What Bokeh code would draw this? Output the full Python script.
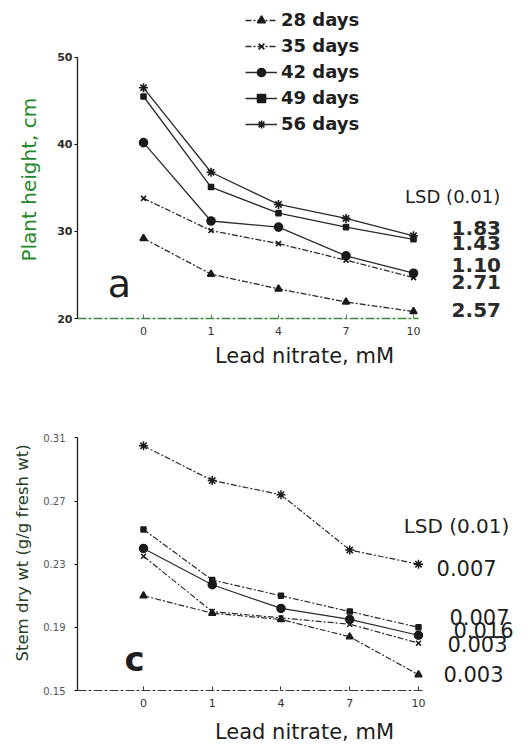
from bokeh.plotting import figure
from bokeh.models import Range1d, Label, Legend, LegendItem, FixedTicker, PrintfTickFormatter, Title
from bokeh.layouts import column
from bokeh.embed import file_html
from bokeh.resources import INLINE

# ---------------- data ----------------
conc_labels = ["0", "1", "4", "7", "10"]          # lead nitrate, mM
x_idx = [0, 1, 2, 3, 4]
series_names = ["28 days", "35 days", "42 days", "49 days", "56 days"]

# panel a: plant height, cm
height_28 = [29.2, 25.1, 23.4, 21.9, 20.8]
height_35 = [33.8, 30.1, 28.6, 26.7, 24.7]
height_42 = [40.2, 31.2, 30.5, 27.2, 25.2]
height_49 = [45.5, 35.1, 32.1, 30.5, 29.1]
height_56 = [46.5, 36.8, 33.1, 31.5, 29.5]
lsd_height = ["1.83", "1.43", "1.10", "2.71", "2.57"]

# panel c: stem dry wt (g/g fresh wt)
dry_28 = [0.210, 0.199, 0.195, 0.184, 0.160]
dry_35 = [0.235, 0.200, 0.196, 0.192, 0.180]
dry_42 = [0.240, 0.217, 0.202, 0.195, 0.185]
dry_49 = [0.252, 0.220, 0.210, 0.200, 0.190]
dry_56 = [0.305, 0.283, 0.274, 0.239, 0.230]
lsd_dry = ["0.007", "0.007", "0.016", "0.003", "0.003"]

# ---------------- styles ----------------
FONT = "DejaVu Sans"
markers = ["triangle", "x", "circle", "square", "asterisk"]
msizes = [7, 7, 8, 5, 9]
top_dash = ["6 2 2 2", "6 2 2 2", "solid", "solid", "solid"]
bot_dash = ["6 2 2 2", "6 2 2 2", "solid", "6 2 2 2", "6 2 2 2"]
LINE_COLOR = "#2b2b2b"


def base_fig(height, xr, yr, top_border, bottom_border):
    p = figure(width=531, height=height, x_range=xr, y_range=yr,
               output_backend="svg", toolbar_location=None,
               min_border_left=77, min_border_right=0, min_border_top=top_border,
               min_border_bottom=bottom_border)
    p.outline_line_color = None
    p.xgrid.visible = False
    p.ygrid.visible = False
    p.background_fill_color = "white"
    p.border_fill_color = "white"
    xa = p.xaxis[0]
    xa.ticker = FixedTicker(ticks=x_idx)
    xa.major_label_overrides = {i: s for i, s in zip(x_idx, conc_labels)}
    xa.major_tick_in = 4
    xa.major_tick_out = 0
    xa.minor_tick_line_color = None
    xa.major_label_text_font = FONT
    xa.major_label_text_font_size = "11px"
    xa.major_label_text_color = "#333333"
    xa.major_label_standoff = 8
    xa.axis_label = "Lead nitrate, mM"
    xa.axis_label_text_font = FONT
    xa.axis_label_text_font_size = "21px"
    xa.axis_label_text_font_style = "normal"
    xa.axis_label_text_color = "#1e1e1e"
    xa.axis_line_dash = "9 2 3 2"
    ya = p.yaxis[0]
    ya.minor_tick_line_color = None
    ya.major_tick_in = 0
    ya.major_tick_out = 3
    ya.axis_line_color = "#1e1e1e"
    ya.axis_line_width = 1.3
    return p


# ---------------- panel a ----------------
p1 = base_fig(370, Range1d(-0.978, 5.748), Range1d(20, 55.61), 8, 51)
p1.xaxis[0].bounds = (-0.978, 4.08)
p1.xaxis[0].axis_line_color = "#3d8b3d"
p1.xaxis[0].major_tick_line_color = "#3d8b3d"
p1.xaxis[0].axis_line_width = 1.3
p1.xaxis[0].axis_label_standoff = 6
ya = p1.yaxis[0]
ya.bounds = (20, 50)
ya.ticker = FixedTicker(ticks=[20, 30, 40, 50])
ya.major_label_text_font = FONT
ya.major_label_text_font_size = "11px"
ya.major_label_text_font_style = "bold"
ya.major_label_text_color = "#2a2a2a"
ya.major_label_standoff = 2

# y-axis title, placed along the 20-50 span of the axis
p1.add_layout(Title(text="Plant height, cm", align="left", offset=57,
                    standoff=28, text_font=FONT, text_font_size="20px",
                    text_font_style="normal", text_color="#23892a"), "left")

top_series = [height_28, height_35, height_42, height_49, height_56]
items = []
for name, vals, mk, ms, dash in zip(series_names, top_series, markers, msizes, top_dash):
    ln = p1.line(x_idx, vals, line_color=LINE_COLOR, line_width=1.3, line_dash=dash)
    sc = p1.scatter(x_idx, vals, marker=mk, size=ms, line_color="#1a1a1a",
                    fill_color="#1a1a1a", line_width=1.6)
    items.append(LegendItem(label=name, renderers=[ln, sc]))

legend = Legend(items=items, location=(168, 184), orientation="vertical",
                label_text_font=FONT, label_text_font_size="18px",
                label_text_font_style="bold", label_text_color="#1e1e1e",
                glyph_width=32, glyph_height=20, label_height=20,
                label_standoff=4, spacing=5, padding=0, margin=0,
                border_line_color=None, background_fill_alpha=0)
p1.add_layout(legend, "center")

p1.add_layout(Label(x=4.58, y=33.97, text="LSD (0.01)", text_font=FONT,
                    text_font_size="18px", text_color="#1e1e1e",
                    text_align="center", text_baseline="middle"))
for txt, yy in zip(lsd_height, [30.42, 28.70, 26.18, 24.24, 21.03]):
    p1.add_layout(Label(x=4.93, y=yy, text=txt, text_font=FONT,
                        text_font_size="20px", text_font_style="bold",
                        text_color="#2a2a2a", text_align="center",
                        text_baseline="middle"))
p1.add_layout(Label(x=-0.356, y=24.0, text="a", text_font=FONT,
                    text_font_size="38px", text_color="#1e1e1e",
                    text_align="center", text_baseline="middle"))

# ---------------- panel c ----------------
p2 = base_fig(376, Range1d(-0.96, 5.644), Range1d(0.15, 0.3527), 0, 52)
p2.xaxis[0].bounds = (-0.96, 4.07)
p2.xaxis[0].axis_line_color = "#2f3d2f"
p2.xaxis[0].major_tick_line_color = "#2f3d2f"
p2.xaxis[0].axis_line_width = 1.2
p2.xaxis[0].axis_label_standoff = 10
ya2 = p2.yaxis[0]
ya2.bounds = (0.15, 0.31)
ya2.ticker = FixedTicker(ticks=[0.15, 0.19, 0.23, 0.27, 0.31])
ya2.formatter = PrintfTickFormatter(format="%.2f")
ya2.major_label_text_font = FONT
ya2.major_label_text_font_size = "10px"
ya2.major_label_text_color = "#555555"
ya2.major_label_standoff = 9

p2.add_layout(Title(text="Stem dry wt (g/g fresh wt)", align="left", offset=29,
                    standoff=18, text_font=FONT, text_font_size="16.5px",
                    text_font_style="normal", text_color="#24401f"), "left")

bot_series = [dry_28, dry_35, dry_42, dry_49, dry_56]
for vals, mk, ms, dash in zip(bot_series, markers, msizes, bot_dash):
    p2.line(x_idx, vals, line_color=LINE_COLOR, line_width=1.2, line_dash=dash)
    p2.scatter(x_idx, vals, marker=mk, size=ms, line_color="#1a1a1a",
               fill_color="#1a1a1a", line_width=1.5)

p2.add_layout(Label(x=4.553, y=0.2539, text="LSD (0.01)", text_font=FONT,
                    text_font_size="20px", text_color="#1e1e1e",
                    text_align="center", text_baseline="middle"))
for txt, xx, yy in zip(lsd_dry, [4.70, 4.887, 4.945, 4.858, 4.80],
                       [0.2276, 0.1963, 0.1882, 0.1794, 0.1606]):
    p2.add_layout(Label(x=xx, y=yy, text=txt, text_font=FONT,
                        text_font_size="21px", text_color="#1e1e1e",
                        text_align="center", text_baseline="middle"))
p2.add_layout(Label(x=-0.131, y=0.170, text="c", text_font=FONT,
                    text_font_size="34px", text_font_style="bold",
                    text_color="#1e1e1e", text_align="center",
                    text_baseline="middle"))

layout = column(p1, p2, spacing=0)
open("out.html", "w").write(file_html(layout, INLINE))
